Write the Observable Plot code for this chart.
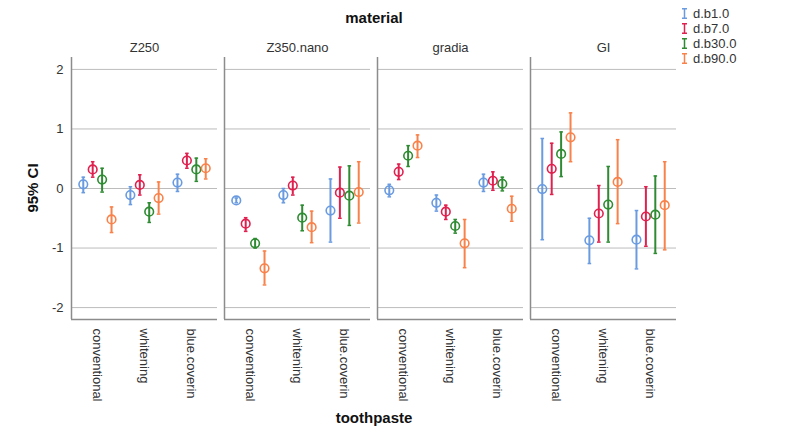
<!DOCTYPE html>
<html>
<head>
<meta charset="utf-8">
<script src="https://cdn.jsdelivr.net/npm/d3@7"></script>
<script src="https://cdn.jsdelivr.net/npm/@observablehq/plot@0.6"></script>
<style>
  html, body { margin: 0; padding: 0; background: #fff; }
  #wrap { position: relative; width: 796px; height: 436px; font-family: "Liberation Sans", Arial, sans-serif; }
  .ttl { position: absolute; font-weight: bold; font-size: 15px; color: #111; white-space: nowrap; }
  #legend { position: absolute; left: 681px; top: 6px; font-size: 13px; color: #333; line-height: 15px; }
  #legend div { display: flex; align-items: center; height: 15px; }
  #legend svg { margin-right: 5px; }
</style>
</head>
<body>
<div id="wrap"></div>
<script>
const materials = ["Z250", "Z350.nano", "gradia", "GI"];
const toothpastes = ["conventional", "whitening", "blue.coverin"];
const seriesNames = ["d.b1.0", "d.b7.0", "d.b30.0", "d.b90.0"];
const colors = ["#6a9be0", "#e0204f", "#2e8b32", "#f8824a"];
const yTicks = [-2, -1, 0, 1, 2];

// order: material x toothpaste (Z250 conv, whit, blue; Z350 ...; gradia ...; GI ...)
const mean_b1 = [0.07, -0.11, 0.10, -0.20, -0.11, -0.37, -0.03, -0.24, 0.10, -0.01, -0.87, -0.86];
const lo_b1   = [-0.07, -0.27, -0.05, -0.24, -0.24, -0.90, -0.14, -0.38, -0.05, -0.86, -1.26, -1.35];
const hi_b1   = [0.19, 0.03, 0.24, -0.16, 0.00, 0.16, 0.07, -0.11, 0.24, 0.84, -0.50, -0.37];

const mean_b7 = [0.32, 0.06, 0.47, -0.59, 0.05, -0.07, 0.28, -0.39, 0.13, 0.33, -0.42, -0.47];
const lo_b7   = [0.19, -0.11, 0.34, -0.72, -0.11, -0.50, 0.15, -0.52, -0.03, -0.10, -0.90, -0.97];
const hi_b7   = [0.45, 0.23, 0.59, -0.49, 0.19, 0.36, 0.41, -0.28, 0.28, 0.76, 0.05, 0.03];

const mean_b30 = [0.15, -0.39, 0.32, -0.92, -0.49, -0.12, 0.55, -0.63, 0.08, 0.58, -0.27, -0.44];
const lo_b30   = [-0.06, -0.57, 0.12, -1.00, -0.71, -0.62, 0.37, -0.75, -0.04, 0.20, -0.90, -1.09];
const hi_b30   = [0.34, -0.24, 0.51, -0.84, -0.28, 0.38, 0.72, -0.52, 0.19, 0.95, 0.37, 0.21];

const mean_b90 = [-0.52, -0.16, 0.34, -1.34, -0.65, -0.06, 0.72, -0.92, -0.34, 0.86, 0.11, -0.28];
const lo_b90   = [-0.74, -0.43, 0.16, -1.62, -0.91, -0.58, 0.52, -1.33, -0.55, 0.45, -0.59, -1.03];
const hi_b90   = [-0.31, 0.11, 0.50, -1.05, -0.38, 0.45, 0.90, -0.52, -0.13, 1.27, 0.82, 0.45];

const seriesData = [
  [mean_b1, lo_b1, hi_b1],
  [mean_b7, lo_b7, hi_b7],
  [mean_b30, lo_b30, hi_b30],
  [mean_b90, lo_b90, hi_b90]
];

const xDomain = [-0.55, 2.55];
const yDomain = [-2.2, 2.2];
const dodge = 0.2;

const rows = [];
seriesData.forEach(([m, lo, hi], s) => {
  materials.forEach((mat, mi) => {
    toothpastes.forEach((tp, ti) => {
      const k = mi * 3 + ti;
      rows.push({series: seriesNames[s], material: mat, toothpaste: tp,
                 xpos: ti + (s - 1.5) * dodge, mean: m[k], lo: lo[k], hi: hi[k]});
    });
  });
});

const capSymbol = {
  draw(context, size) {
    const w = Math.sqrt(size / Math.PI);
    context.moveTo(-w, 0);
    context.lineTo(w, 0);
  }
};

const chart = Plot.plot({
  width: 796,
  height: 436,
  marginLeft: 70,
  marginRight: 118,
  marginTop: 57,
  marginBottom: 117,
  style: {fontFamily: "Liberation Sans, Arial, sans-serif", fontSize: "13px", color: "#333", background: "white"},
  facet: {data: rows, x: "material"},
  fx: {domain: materials, paddingInner: 0.045, paddingOuter: 0, axis: "top", label: null, tickPadding: 6},
  x: {domain: xDomain, ticks: [0, 1, 2], tickFormat: i => toothpastes[i], tickRotate: 90, tickSize: 0, tickPadding: 9, label: null},
  y: {domain: yDomain, ticks: yTicks, tickFormat: d => String(d), tickSize: 0, tickPadding: 8, label: null},
  color: {domain: seriesNames, range: colors},
  marks: [
    Plot.ruleY(yTicks, {stroke: "#bcbcbc", strokeWidth: 1}),
    Plot.ruleX([xDomain[0]], {stroke: "#8c8c8c", strokeWidth: 1.5}),
    Plot.ruleY([yDomain[0]], {stroke: "#8c8c8c", strokeWidth: 1.5}),
    Plot.ruleX(rows, {x: "xpos", y1: "lo", y2: "hi", stroke: "series", strokeWidth: 2}),
    Plot.dot(rows, {x: "xpos", y: "lo", stroke: "series", symbol: capSymbol, r: 1.8, strokeWidth: 1.5}),
    Plot.dot(rows, {x: "xpos", y: "hi", stroke: "series", symbol: capSymbol, r: 1.8, strokeWidth: 1.5}),
    Plot.dot(rows, {x: "xpos", y: "mean", stroke: "series", fill: "none", r: 4.3, strokeWidth: 1.6})
  ]
});

const wrap = document.getElementById("wrap");
wrap.appendChild(chart);

function addTitle(text, css) {
  const d = document.createElement("div");
  d.className = "ttl";
  d.textContent = text;
  Object.assign(d.style, css);
  wrap.appendChild(d);
  return d;
}
addTitle("material", {left: "374px", top: "9px", transform: "translateX(-50%)"});
addTitle("toothpaste", {left: "374px", top: "409px", transform: "translateX(-50%)"});
addTitle("95% CI", {left: "32px", top: "188px", transform: "translate(-50%, -50%) rotate(-90deg)"});

const legend = document.createElement("div");
legend.id = "legend";
seriesNames.forEach((name, i) => {
  const row = document.createElement("div");
  row.innerHTML = `<svg width="7" height="11"><path d="M1,0.75H6M3.5,0.75V10.25M1,10.25H6" stroke="${colors[i]}" stroke-width="1.5" fill="none"/></svg><span>${name}</span>`;
  legend.appendChild(row);
});
wrap.appendChild(legend);
</script>
</body>
</html>
